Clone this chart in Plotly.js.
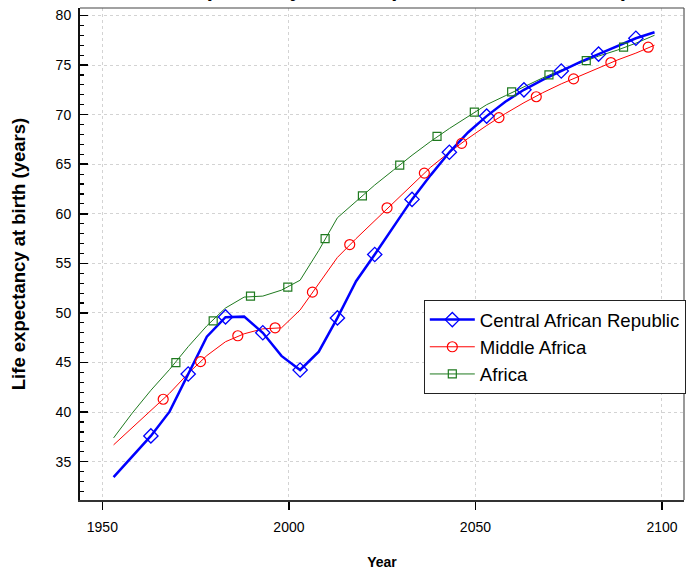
<!DOCTYPE html>
<html>
<head>
<meta charset="utf-8">
<script src="https://cdn.plot.ly/plotly-3.0.1.min.js"></script>
<style>
  html, body { margin: 0; padding: 0; background: #ffffff; }
  #chart { width: 697px; height: 570px; }
</style>
</head>
<body>
<div id="chart"></div>
<script>
// ---- Data ----
var years = [1953, 1958, 1963, 1968, 1973, 1978, 1983, 1988, 1993, 1998,
             2003, 2008, 2013, 2018, 2023, 2028, 2033, 2038, 2043, 2048,
             2053, 2058, 2063, 2068, 2073, 2078, 2083, 2088, 2093, 2098];

var carValues = [33.45, 35.5, 37.6, 40.05, 43.85, 47.6, 49.57, 49.63, 48.0, 45.67,
                 44.25, 46.1, 49.5, 53.2, 55.9, 58.7, 61.45, 63.9, 66.2, 68.2,
                 69.85, 71.3, 72.5, 73.5, 74.4, 75.3, 76.1, 76.9, 77.7, 78.3];

var middleAfricaValues = [36.7, 38.4, 40.1, 41.9, 43.9, 45.7, 47.1, 47.9, 48.4, 48.5,
                          50.3, 53.0, 55.6, 57.5, 59.3, 61.2, 63.0, 64.7, 66.2, 67.6,
                          68.9, 70.1, 71.2, 72.2, 73.1, 73.9, 74.7, 75.5, 76.2, 77.0];

var africaValues = [37.4, 39.9, 42.2, 44.3, 46.6, 48.7, 50.5, 51.6, 51.7, 52.3,
                    53.3, 56.3, 59.6, 61.3, 62.9, 64.4, 65.9, 67.3, 68.6, 69.8,
                    71.0, 71.9, 72.8, 73.7, 74.5, 75.2, 75.9, 76.5, 77.2, 78.0];

// marker positions along each line
var carMarkerYears = [1963, 1973, 1983, 1993, 2003, 2013, 2023, 2033, 2043, 2053, 2063, 2073, 2083, 2093];
var carMarkerValues = [37.6, 43.85, 49.6, 48.0, 44.25, 49.5, 55.9, 61.45, 66.2, 69.85, 72.5, 74.4, 76.1, 77.7];

var middleMarkerYears = [1966.3, 1976.3, 1986.3, 1996.3, 2006.3, 2016.3, 2026.3, 2036.3, 2046.3, 2056.3, 2066.3, 2076.3, 2086.3, 2096.3];
var middleMarkerValues = [41.3, 45.1, 47.7, 48.5, 52.1, 56.9, 60.6, 64.1, 67.1, 69.7, 71.8, 73.6, 75.25, 76.8];

var africaMarkerYears = [1969.7, 1979.7, 1989.7, 1999.7, 2009.7, 2019.7, 2029.7, 2039.7, 2049.7, 2059.7, 2069.7, 2079.7, 2089.7];
var africaMarkerValues = [45.0, 49.2, 51.7, 52.6, 57.5, 61.8, 64.9, 67.8, 70.25, 72.3, 74.0, 75.45, 76.8];

var seriesNames = ['Central African Republic', 'Middle Africa', 'Africa'];
var xTickVals = [1950, 2000, 2050, 2100];
var yTickVals = [35, 40, 45, 50, 55, 60, 65, 70, 75, 80];

// ---- Styles ----
var FONT = 'Liberation Sans, Arial, sans-serif';
var BLUE = '#0000ff', RED = '#ff0000', GREEN = '#1f7a1f';

var traces = [
  // lines
  {x: years, y: africaValues, mode: 'lines', line: {color: GREEN, width: 1}, showlegend: false, hoverinfo: 'skip'},
  {x: years, y: middleAfricaValues, mode: 'lines', line: {color: RED, width: 1}, showlegend: false, hoverinfo: 'skip'},
  {x: years, y: carValues, mode: 'lines', line: {color: BLUE, width: 2.5}, showlegend: false, hoverinfo: 'skip'},
  // markers
  {x: africaMarkerYears, y: africaMarkerValues, mode: 'markers', showlegend: false,
   marker: {symbol: 'square-open', size: 8, color: GREEN, line: {width: 1.2}}},
  {x: middleMarkerYears, y: middleMarkerValues, mode: 'markers', showlegend: false,
   marker: {symbol: 'circle-open', size: 10, color: RED, line: {width: 1.2}}},
  {x: carMarkerYears, y: carMarkerValues, mode: 'markers', showlegend: false,
   marker: {symbol: 'diamond-open', size: 11, color: BLUE, line: {width: 1.3}}},
  // legend entries (no data)
  {x: [null], y: [null], mode: 'lines+markers', name: seriesNames[0],
   line: {color: BLUE, width: 2.5}, marker: {symbol: 'diamond-open', size: 11, color: BLUE, line: {width: 1.3}}},
  {x: [null], y: [null], mode: 'lines+markers', name: seriesNames[1],
   line: {color: RED, width: 1}, marker: {symbol: 'circle-open', size: 10, color: RED, line: {width: 1.2}}},
  {x: [null], y: [null], mode: 'lines+markers', name: seriesNames[2],
   line: {color: GREEN, width: 1}, marker: {symbol: 'square-open', size: 8, color: GREEN, line: {width: 1.2}}}
];

var layout = {
  width: 697, height: 570,
  margin: {l: 80, r: 13, t: 8, b: 70, pad: 0},
  paper_bgcolor: '#ffffff', plot_bgcolor: '#ffffff',
  font: {family: FONT, size: 14, color: '#000000'},
  showlegend: true,
  legend: {
    x: 1.003, xanchor: 'right', y: 0.4065, yanchor: 'top',
    bgcolor: '#ffffff', bordercolor: '#222222', borderwidth: 1,
    font: {family: FONT, size: 18.6, color: '#000000'},
    itemwidth: 45, tracegroupgap: 0, traceorder: 'normal'
  },
  xaxis: {
    range: [1944.0, 2105.9],
    tickvals: xTickVals, ticktext: xTickVals.map(String),
    ticks: 'outside', ticklen: 8, tickwidth: 1.5, tickcolor: '#000000',
    ticklabelstandoff: 5,
    showline: true, linewidth: 2, linecolor: '#333333',
    showgrid: true, gridcolor: '#d3d3d3', griddash: 'dot', gridwidth: 1,
    zeroline: false,
    tickfont: {family: FONT, size: 14},
    title: {text: '<b>Year</b>', font: {family: FONT, size: 14}, standoff: 23}
  },
  yaxis: {
    range: [31.14, 80.75],
    tickvals: yTickVals, ticktext: yTickVals.map(String),
    ticks: 'inside', ticklen: 8, tickwidth: 1.5, tickcolor: '#000000',
    minor: {dtick: 1, tick0: 0, ticks: 'inside', ticklen: 4, tickwidth: 1.2, tickcolor: '#000000', showgrid: false},
    ticklabelstandoff: 4,
    showline: true, linewidth: 2, linecolor: '#111111',
    showgrid: true, gridcolor: '#d3d3d3', griddash: 'dot', gridwidth: 1,
    zeroline: false,
    tickfont: {family: FONT, size: 14},
    title: {text: '<b>Life expectancy at birth (years)</b>', font: {family: FONT, size: 18.5}, standoff: 25}
  },
  shapes: [
    {type: 'line', xref: 'paper', yref: 'paper', x0: 0, x1: 1, y0: 1, y1: 1, line: {color: '#444444', width: 1.2}},
    {type: 'line', xref: 'paper', yref: 'paper', x0: 1, x1: 1, y0: 0, y1: 1, line: {color: '#555555', width: 1.2}}
  ],
  annotations: [
    {text: '<b>Life expectancy at birth (both sexes combined)</b>', xref: 'paper', yref: 'paper',
     x: 0.5, y: 1.039, xanchor: 'center', yanchor: 'middle', showarrow: false,
     font: {family: FONT, size: 22, color: '#000000'}}
  ]
};

Plotly.newPlot('chart', traces, layout, {displayModeBar: false, staticPlot: true});
</script>
</body>
</html>
